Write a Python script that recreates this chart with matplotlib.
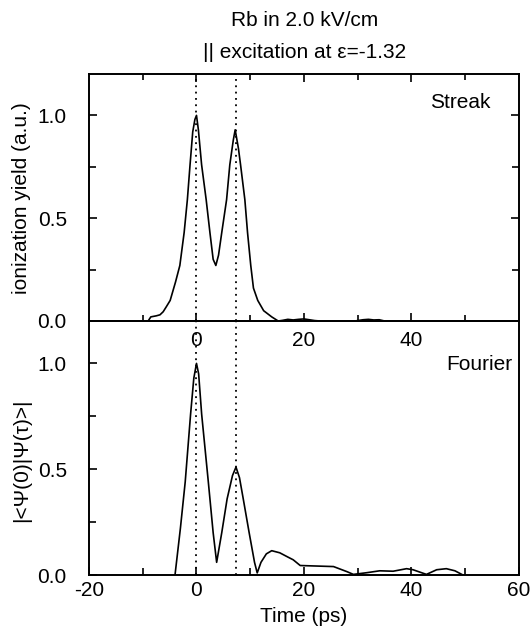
"""Rb in 2.0 kV/cm: streak vs Fourier autocorrelation."""

import matplotlib

matplotlib.use("Agg")
import matplotlib.pyplot as plt
from matplotlib.ticker import FixedLocator

plt.rcParams["font.family"] = ["Liberation Sans", "DejaVu Sans"]
plt.rcParams["font.size"] = 15
plt.rcParams["axes.unicode_minus"] = False

# streak measurement (top panel)
streak_t = [-9.0, -8.5, -7.5, -6.8, -6.2, -5.6, -4.9, -3.9, -3.1, -2.3, -1.7, -1.2, -0.7, -0.3, 0.0,
            0.35, 0.95, 1.8, 2.5, 3.1, 3.6, 4.1, 4.7, 5.6, 6.2, 6.85, 7.2, 7.8, 8.2, 9.0, 9.5,
            10.1, 10.6, 11.4, 12.5, 14.0, 15.2, 16.0, 17.0, 18.0, 19.0, 20.0, 21.0, 22.0, 23.0,
            29.5, 31.0, 32.0, 33.0, 34.0, 35.0]
streak_y = [0.0, 0.02, 0.025, 0.03, 0.045, 0.07, 0.10, 0.19, 0.27, 0.43, 0.59, 0.76, 0.92, 0.98, 1.0,
            0.93, 0.76, 0.59, 0.43, 0.30, 0.27, 0.32, 0.43, 0.59, 0.76, 0.88, 0.93, 0.84, 0.76, 0.59, 0.43,
            0.27, 0.16, 0.10, 0.05, 0.02, 0.0, 0.003, 0.008, 0.005, 0.008, 0.01, 0.006, 0.002, 0.0,
            0.0, 0.006, 0.008, 0.005, 0.006, 0.0]

# |<psi(0)|psi(tau)>| from the wave packet (bottom panel)
fourier_t = [-4.0, -3.0, -2.1, -1.1, -0.5, 0.0, 0.4, 0.96, 2.2, 3.1, 3.75, 4.7, 5.7, 6.7, 7.35,
             8.0, 8.7, 9.8, 10.8, 11.3, 12.0, 13.0, 14.0, 15.5, 17.0, 18.0, 19.3, 21.7, 25.5, 28.0,
             29.2, 31.7, 34.1, 36.6, 39.1, 40.3, 42.8, 44.7, 46.5, 48.1, 49.6]
fourier_y = [0.0, 0.22, 0.44, 0.76, 0.93, 1.0, 0.95, 0.76, 0.44, 0.2, 0.06, 0.2, 0.36, 0.47, 0.51,
             0.46, 0.36, 0.2, 0.06, 0.01, 0.06, 0.10, 0.115, 0.105, 0.085, 0.072, 0.045, 0.043, 0.04, 0.016,
             0.003, 0.011, 0.02, 0.018, 0.03, 0.025, 0.003, 0.025, 0.03, 0.02, 0.0]

marker_times = [0.0, 7.4]

fig = plt.figure(figsize=(5.3, 6.31), dpi=100)
ax_b = fig.add_axes([0.168, 0.0887, 0.811, 0.4025])
ax_t = fig.add_axes([0.168, 0.4913, 0.811, 0.391])
ax_t.patch.set_alpha(0)

for ax in (ax_t, ax_b):
    ax.set_xlim(-20, 60)
    ax.set_ylim(0, 1.2)
    for s in ax.spines.values():
        s.set_linewidth(1.4)
    ax.set_yticks([0.0, 0.5, 1.0])
    ax.yaxis.set_minor_locator(FixedLocator([0.25, 0.75]))
    ax.set_yticklabels(["0.0", "0.5", "1.0"])
    ax.tick_params(which="both", direction="in", width=1.2)
    ax.tick_params(which="major", length=6)
    ax.tick_params(which="minor", length=5)
    ax.tick_params(axis="y", which="major", pad=16)
    for t in marker_times:
        ax.axvline(t, color="black", lw=1.3, ls=(0, (1, 2.5)))

ax_t.plot(streak_t, streak_y, color="black", lw=1.2)
ax_b.plot(fourier_t, fourier_y, color="black", lw=1.2)

# top panel: ticks all round, labels 0/20/40 hanging below the shared spine
ax_t.set_xticks([0, 20, 40])
ax_t.xaxis.set_minor_locator(FixedLocator([-10, 10, 30, 50]))
ax_t.tick_params(axis="x", which="both", top=True, bottom=True)
ax_t.tick_params(axis="x", which="major", pad=7)
ax_t.tick_params(axis="y", which="both", left=True, right=True)
ax_t.tick_params(axis="x", which="minor", length=4)

ax_b.set_xticks([-20, 0, 20, 40, 60])
ax_b.xaxis.set_minor_locator(FixedLocator([-10, 10, 30, 50]))
ax_b.tick_params(axis="x", which="both", top=False)
ax_b.tick_params(axis="x", which="major", pad=4)
ax_b.tick_params(axis="x", which="minor", length=5)

ax_t.set_ylabel("ionization yield (a.u.)")
ax_t.yaxis.set_label_coords(-0.135, 0.5)
ax_b.set_ylabel("|<Ψ(0)|Ψ(τ)>|")
ax_b.yaxis.set_label_coords(-0.135, 0.45)
ax_b.set_xlabel("Time (ps)", labelpad=5)

ax_t.text(0.935, 0.885, "Streak", transform=ax_t.transAxes, ha="right", va="center")
ax_b.text(0.985, 0.83, "Fourier", transform=ax_b.transAxes, ha="right", va="center")

fig.text(0.575, 1 - 21 / 631, "Rb in 2.0 kV/cm", ha="center", va="center")
fig.text(0.575, 1 - 52 / 631, "|| excitation at ε=-1.32", ha="center", va="center")

fig.savefig("out.png", dpi=100)
